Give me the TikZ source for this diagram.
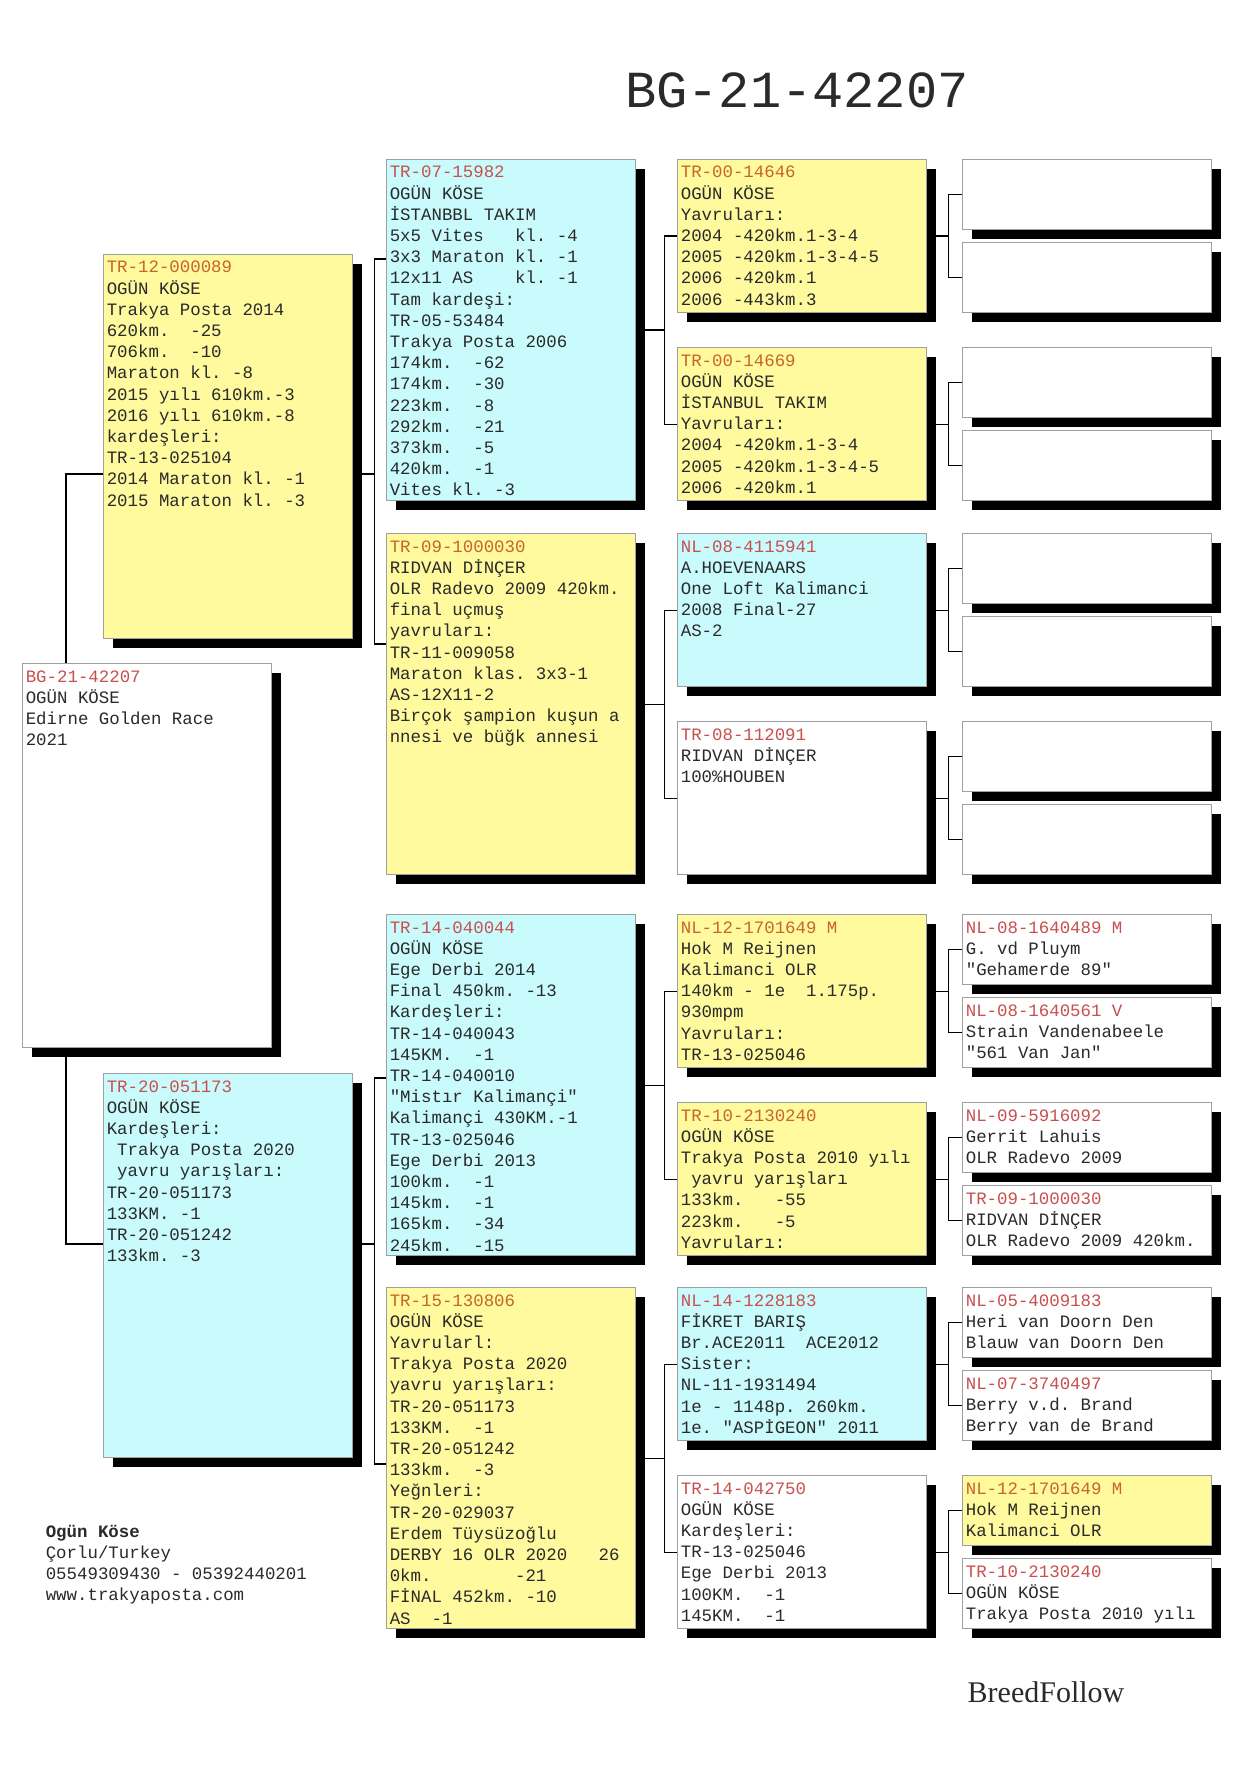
\documentclass[tikz,border=0pt]{standalone}
\usepackage{fontspec}
\newfontfamily\pedfont{Liberation Mono}
\newfontfamily\brandfont{Liberation Serif}
\newcommand{\pedsize}{\fontsize{8.7}{10.6}\selectfont\frenchspacing}
\newcommand{\pedsp}{\spaceskip=0.6em\relax\xspaceskip=0.6em\relax}
\usetikzlibrary{positioning,shadows,backgrounds}
\definecolor{yel}{HTML}{FFFA9E}
\definecolor{cyn}{HTML}{C9FBFD}
\definecolor{wht}{HTML}{FFFFFF}
\definecolor{idyel}{HTML}{C8642D}
\definecolor{idcyn}{HTML}{C8504E}
\definecolor{idwht}{HTML}{C8504E}
\definecolor{ink}{HTML}{2A2A2A}

\begin{document}
\begin{tikzpicture}[x=0.5pt,y=-0.5pt,
  card/.style={draw=gray!75,line width=0.6pt,fill=#1,anchor=north west,minimum width=124.5pt,inner sep=0pt,
    drop shadow={shadow xshift=4.5pt,shadow yshift=-4.5pt,fill=black,opacity=1}},
  txt/.style={font=\pedfont\pedsize,text=ink,anchor=north west,align=left,
    text width=121pt,inner xsep=1.7pt,inner ysep=2.3pt,execute at begin node=\pedsp\rule{0pt}{7pt}},
  link/.style={line width=0.6pt,black}]
  \useasboundingbox (0,0) rectangle (1242,1765);
  % title
  \node[font=\pedfont\fontsize{26}{30}\selectfont,text=ink] (title) at (797,90) {BG-21-42207};
  % ---- the bird itself
  \node[card=wht,minimum height=192pt] (b0) at (22,663) {};
  \node[txt] (b0-t) at (b0.north west) {\textcolor{idwht}{BG-21-42207}\\OGÜN KÖSE\\Edirne Golden Race\\2021};
  % ---- parents
  \foreach \yy/\col/\off/\id/\txt [count=\i] in {
    254/yel/110/TR-12-000089/{OGÜN KÖSE\\Trakya Posta 2014\\620km.~ -25\\706km.~ -10\\Maraton kl. -8\\2015 yılı 610km.-3\\2016 yılı 610km.-8\\kardeşleri:\\TR-13-025104\\2014 Maraton kl. -1\\2015 Maraton kl. -3},
    1073/cyn/85.5/TR-20-051173/{OGÜN KÖSE\\Kardeşleri:\\\hphantom{0}Trakya Posta 2020\\\hphantom{0}yavru yarışları:\\TR-20-051173\\133KM. -1\\TR-20-051242\\133km. -3}}
  {
    \node[card=\col,minimum height=192pt] (c\i) at (103,\yy) {};
    \node[txt] (c\i-t) at (c\i.north west) {\textcolor{id\col}{\id}\\\txt};
    \coordinate (c\i-in) at ([yshift=-\off pt]c\i.north west);
    \coordinate (c\i-out) at ([yshift=-\off pt]c\i.north east);
  }
  % ---- grandparents
  \foreach \yy/\col/\off/\id/\txt [count=\i] in {
    159/cyn/50/TR-07-15982/{OGÜN KÖSE\\İSTANBBL TAKIM\\5x5 Vites~~ kl. -4\\3x3 Maraton kl. -1\\12x11 AS~~~ kl. -1\\Tam kardeşi:\\TR-05-53484\\Trakya Posta 2006\\174km.~ -62\\174km.~ -30\\223km.~ -8\\292km.~ -21\\373km.~ -5\\420km.~ -1\\Vites kl. -3},
    533/yel/55.5/TR-09-1000030/{RIDVAN DİNÇER\\OLR Radevo 2009 420km.\\final uçmuş\\yavruları:\\TR-11-009058\\Maraton klas. 3x3-1\\AS-12X11-2\\Birçok şampion kuşun a\\nnesi ve büğk annesi},
    914/cyn/82/TR-14-040044/{OGÜN KÖSE\\Ege Derbi 2014\\Final 450km. -13\\Kardeşleri:\\TR-14-040043\\145KM.~ -1\\TR-14-040010\\"Mistır Kalimançi"\\Kalimançi 430KM.-1\\TR-13-025046\\Ege Derbi 2013\\100km.~ -1\\145km.~ -1\\165km.~ -34\\245km.~ -15},
    1287/yel/88.5/TR-15-130806/{OGÜN KÖSE\\Yavrularl:\\Trakya Posta 2020\\yavru yarışları:\\TR-20-051173\\133KM.~ -1\\TR-20-051242\\133km.~ -3\\Yeğnleri:\\TR-20-029037\\Erdem Tüysüzoğlu\\DERBY 16 OLR 2020~~ 26\\0km.~~~~~~~ -21\\FİNAL 452km. -10\\AS~ -1}}
  {
    \node[card=\col,minimum height=170.5pt] (d\i) at (386,\yy) {};
    \node[txt] (d\i-t) at (d\i.north west) {\textcolor{id\col}{\id}\\\txt};
    \coordinate (d\i-in) at ([yshift=-\off pt]d\i.north west);
  }
  % ---- great-grandparents
  \foreach \yy/\col/\id/\txt [count=\i] in {
    159/yel/TR-00-14646/{OGÜN KÖSE\\Yavruları:\\2004 -420km.1-3-4\\2005 -420km.1-3-4-5\\2006 -420km.1\\2006 -443km.3},
    347/yel/TR-00-14669/{OGÜN KÖSE\\İSTANBUL TAKIM\\Yavruları:\\2004 -420km.1-3-4\\2005 -420km.1-3-4-5\\2006 -420km.1},
    533/cyn/NL-08-4115941/{A.HOEVENAARS\\One Loft Kalimanci\\2008 Final-27\\AS-2},
    721/wht/TR-08-112091/{RIDVAN DİNÇER\\100\%HOUBEN},
    914/yel/NL-12-1701649 M/{Hok M Reijnen\\Kalimanci OLR\\140km - 1e~ 1.175p.\\930mpm\\Yavruları:\\TR-13-025046},
    1102/yel/TR-10-2130240/{OGÜN KÖSE\\Trakya Posta 2010 yılı\\\hphantom{0}yavru yarışları\\133km.~~ -55\\223km.~~ -5\\Yavruları:},
    1287/cyn/NL-14-1228183/{FİKRET BARIŞ\\Br.ACE2011~ ACE2012\\Sister:\\NL-11-1931494\\1e - 1148p. 260km.\\1e. "ASPİGEON" 2011},
    1475/wht/TR-14-042750/{OGÜN KÖSE\\Kardeşleri:\\TR-13-025046\\Ege Derbi 2013\\100KM.~ -1\\145KM.~ -1}}
  {
    \node[card=\col,minimum height=76.5pt] (f\i) at (677,\yy) {};
    \node[txt] (f\i-t) at (f\i.north west) {\textcolor{id\col}{\id}\\\txt};
  }
  % ---- last row, top half left empty
  \foreach \yy/\col [count=\i] in {159/wht,242/wht,347/wht,430/wht,533/wht,616/wht,721/wht,804/wht,
      914/wht,997/wht,1102/wht,1185/wht,1287/wht,1370/wht,1475/yel,1558/wht}
    \node[card=\col,minimum height=35pt] (e\i) at (962,\yy) {};
  \foreach \i/\col/\id/\ta/\tb in {9/wht/NL-08-1640489 M/G. vd Pluym/"Gehamerde 89",
      10/wht/NL-08-1640561 V/Strain Vandenabeele/"561 Van Jan",
      11/wht/NL-09-5916092/Gerrit Lahuis/OLR Radevo 2009,
      12/wht/TR-09-1000030/RIDVAN DİNÇER/OLR Radevo 2009 420km.,
      13/wht/NL-05-4009183/Heri van Doorn Den/Blauw van Doorn Den,
      14/wht/NL-07-3740497/Berry v.d. Brand/Berry van de Brand,
      15/yel/NL-12-1701649 M/Hok M Reijnen/Kalimanci OLR,
      16/wht/TR-10-2130240/OGÜN KÖSE/Trakya Posta 2010 yılı}
    \node[txt] (e\i-t) at (e\i.north west) {\textcolor{id\col}{\id}\\\ta\\\tb};
  % ---- footer
  \node[txt,text width=140pt] (foot) at (42,1518) {{\bfseries Ogün Köse}\\Çorlu/Turkey\\05549309430 - 05392440201\\www.trakyaposta.com};
  \node[font=\brandfont\fontsize{15}{18}\selectfont,text=ink] (brand) at (1046,1692) {BreedFollow};
  % ---- connectors, behind the cards
  \begin{scope}[on background layer]
    \fill[white] (0,0) rectangle (1242,1765);
    \draw[link] (c1-in) -| ([xshift=22pt]b0.north west);
    \draw[link] (c2-in) -| ([xshift=22pt]b0.south west);
    \foreach \p/\a/\b in {c1/d1/d2,c2/d3/d4} {
      \draw[link] (\p-out) -- ++(21,0) coordinate (k);
      \draw[link] (\a-in) -| (k) |- (\b-in);
    }
    \foreach \i [evaluate=\i as \a using int(2*\i-1),evaluate=\i as \b using int(2*\i)] in {1,...,4} {
      \draw[link] (d\i.east) -- ++(28,0) coordinate (k);
      \draw[link] (f\a.west) -| (k) |- (f\b.west);
    }
    \foreach \i [evaluate=\i as \a using int(2*\i-1),evaluate=\i as \b using int(2*\i)] in {1,...,8} {
      \draw[link] (f\i.east) -- ++(21,0) coordinate (k);
      \draw[link] (e\a.west) -| (k) |- (e\b.west);
    }
  \end{scope}
\end{tikzpicture}
\end{document}
